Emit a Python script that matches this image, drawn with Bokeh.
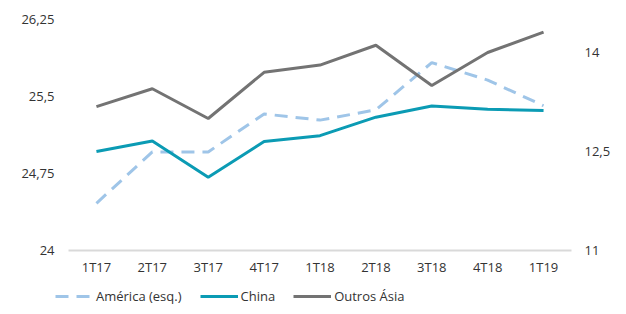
from bokeh.plotting import figure
from bokeh.models import (ColumnDataSource, LinearAxis, Range1d, FixedTicker,
                          Legend, LegendItem, FactorRange)
from bokeh.embed import file_html
from bokeh.resources import INLINE

quarters = ["1T17", "2T17", "3T17", "4T17", "1T18", "2T18", "3T18", "4T18", "1T19"]
america = [24.46, 24.96, 24.96, 25.33, 25.27, 25.37, 25.83, 25.66, 25.41]
china = [12.50, 12.66, 12.11, 12.65, 12.74, 13.02, 13.19, 13.14, 13.12]
outros_asia = [13.18, 13.45, 13.00, 13.70, 13.81, 14.11, 13.50, 14.00, 14.31]

left_ticks = [24, 24.75, 25.5, 26.25]
left_labels = ["24", "24,75", "25,5", "26,25"]
right_ticks = [11, 12.5, 14]
right_labels = ["11", "12,5", "14"]

src = ColumnDataSource(dict(q=quarters, am=america, ch=china, oa=outros_asia))

FONT = "Open Sans"
LBL = "#333333"

# frame extended below the x baseline so the legend fits inside it
p = figure(x_range=FactorRange(*quarters, range_padding=0.2326,
                               range_padding_units="absolute"),
           y_range=Range1d(23.4545, 26.25),
           frame_width=529, frame_height=287,
           output_backend="svg", toolbar_location=None,
           min_border_left=55, min_border_top=19, min_border_right=42,
           min_border_bottom=0)
p.extra_y_ranges = {"right": Range1d(10.1515, 14.5)}
p.outline_line_color = None
p.grid.grid_line_color = None
p.background_fill_color = "white"
p.border_fill_color = "white"

# baseline
p.segment(x0=[(quarters[0], -0.5)], y0=[left_ticks[0]],
          x1=[(quarters[-1], 0.5)], y1=[left_ticks[0]],
          line_color="#d9d9d9", line_width=2)

r_am = p.line("q", "am", source=src, line_color="#9fc5e8", line_width=3,
              line_dash="13 8")
r_ch = p.line("q", "ch", source=src, line_color="#0b9bb4", line_width=3,
              y_range_name="right")
r_oa = p.line("q", "oa", source=src, line_color="#737373", line_width=3,
              y_range_name="right")

# left axis
ya = p.yaxis[0]
ya.ticker = FixedTicker(ticks=left_ticks)
ya.major_label_overrides = {t: l for t, l in zip(left_ticks, left_labels)}
ya.axis_line_color = None
ya.major_tick_line_color = None
ya.minor_tick_line_color = None
ya.major_tick_out = 0
ya.major_tick_in = 0
ya.major_label_standoff = 1
ya.major_label_text_font = FONT
ya.major_label_text_font_size = "13px"
ya.major_label_text_color = LBL

# right axis
ra = LinearAxis(y_range_name="right", ticker=FixedTicker(ticks=right_ticks))
ra.major_label_overrides = {t: l for t, l in zip(right_ticks, right_labels)}
ra.axis_line_color = None
ra.major_tick_line_color = None
ra.minor_tick_line_color = None
ra.major_tick_out = 0
ra.major_tick_in = 0
ra.major_label_standoff = 0
ra.major_label_text_font = FONT
ra.major_label_text_font_size = "13px"
ra.major_label_text_color = LBL
p.add_layout(ra, "right")

# x axis drawn at the baseline value
xa = p.xaxis[0]
xa.fixed_location = left_ticks[0]
xa.axis_line_color = None
xa.major_tick_line_color = None
xa.minor_tick_line_color = None
xa.major_label_standoff = 2
xa.major_label_text_font = FONT
xa.major_label_text_font_size = "13px"
xa.major_label_text_color = LBL

legend = Legend(items=[LegendItem(label="América (esq.)", renderers=[r_am]),
                       LegendItem(label="China", renderers=[r_ch]),
                       LegendItem(label="Outros Ásia", renderers=[r_oa])],
                orientation="horizontal", location=(0, 0),
                border_line_color=None, background_fill_alpha=0,
                padding=0, margin=0, spacing=18, glyph_width=38,
                label_standoff=3, label_text_font=FONT,
                label_text_font_size="13px", label_text_color=LBL)
p.add_layout(legend, "center")

open("out.html", "w").write(file_html(p, INLINE))
